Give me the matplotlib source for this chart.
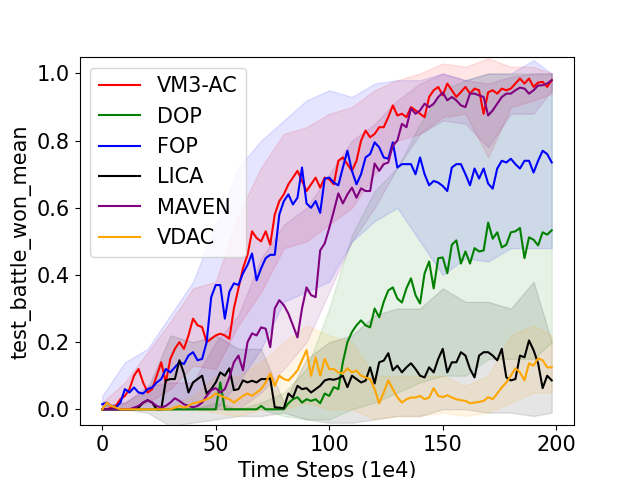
import numpy as np
import matplotlib
matplotlib.use("Agg")
import matplotlib.pyplot as plt

plt.rcParams['font.size'] = 15

# evaluation steps (1e4)
steps = np.arange(0, 200, 2)

# mean win rate per algorithm
vm3ac = [0.0, 0.0, 0.005, 0.01, 0.03, 0.04, 0.06, 0.1, 0.12, 0.08,
         0.05, 0.06, 0.1, 0.14, 0.08, 0.15, 0.18, 0.2, 0.18, 0.22,
         0.27, 0.25, 0.245, 0.2, 0.21, 0.22, 0.225, 0.22, 0.21, 0.3,
         0.36, 0.42, 0.46, 0.53, 0.51, 0.5, 0.53, 0.49, 0.58, 0.62,
         0.64, 0.67, 0.69, 0.71, 0.68, 0.65, 0.67, 0.69, 0.66, 0.69,
         0.685, 0.67, 0.74, 0.75, 0.73, 0.71, 0.74, 0.8, 0.83, 0.81,
         0.82, 0.84, 0.84, 0.87, 0.905, 0.875, 0.88, 0.87, 0.9, 0.89,
         0.88, 0.87, 0.93, 0.95, 0.96, 0.935, 0.97, 0.95, 0.93, 0.945,
         0.96, 0.94, 0.955, 0.95, 0.88, 0.944, 0.95, 0.94, 0.955, 0.95,
         0.955, 0.97, 0.985, 0.97, 0.985, 0.96, 0.973, 0.975, 0.96, 0.98]
dop = [0.0, 0.0, 0.0, 0.0, 0.0, 0.0, 0.0, 0.0, 0.0, 0.0,
       0.0, 0.0, 0.0, 0.0, 0.0, 0.0, 0.0, 0.0, 0.0, 0.0,
       0.0, 0.0, 0.0, 0.0, 0.0, 0.0, 0.08, 0.0, 0.0, 0.0,
       0.0, 0.0, 0.0, 0.0, 0.0, 0.01, 0.0, 0.0, 0.0, 0.0,
       0.0, 0.018, 0.03, 0.036, 0.02, 0.03, 0.025, 0.03, 0.018, 0.047,
       0.04, 0.066, 0.06, 0.14, 0.2, 0.23, 0.25, 0.265, 0.25, 0.244,
       0.3, 0.274, 0.32, 0.354, 0.363, 0.33, 0.318, 0.36, 0.39, 0.34,
       0.315, 0.405, 0.44, 0.36, 0.45, 0.452, 0.405, 0.49, 0.503, 0.434,
       0.47, 0.434, 0.48, 0.47, 0.473, 0.556, 0.508, 0.527, 0.482, 0.49,
       0.527, 0.53, 0.54, 0.45, 0.512, 0.505, 0.488, 0.527, 0.52, 0.533]
fop = [0.015, 0.02, 0.01, 0.005, 0.02, 0.06, 0.05, 0.065, 0.05, 0.047,
       0.06, 0.065, 0.08, 0.09, 0.12, 0.11, 0.125, 0.14, 0.135, 0.16,
       0.17, 0.146, 0.15, 0.2, 0.334, 0.37, 0.37, 0.27, 0.35, 0.375,
       0.37, 0.405, 0.43, 0.464, 0.384, 0.42, 0.45, 0.46, 0.46, 0.58,
       0.62, 0.64, 0.61, 0.63, 0.72, 0.613, 0.6, 0.62, 0.585, 0.687,
       0.69, 0.675, 0.667, 0.72, 0.77, 0.71, 0.67, 0.7, 0.75, 0.76,
       0.795, 0.78, 0.75, 0.746, 0.795, 0.72, 0.73, 0.73, 0.73, 0.70,
       0.75, 0.7, 0.667, 0.68, 0.675, 0.665, 0.65, 0.72, 0.73, 0.73,
       0.70, 0.667, 0.717, 0.687, 0.717, 0.672, 0.657, 0.717, 0.74, 0.735,
       0.746, 0.73, 0.717, 0.74, 0.74, 0.705, 0.74, 0.77, 0.76, 0.735]
lica = [0.0, 0.0, 0.0, 0.0, 0.0, 0.0, 0.0, 0.0, 0.005, 0.02,
        0.027, 0.02, 0.0, 0.0, 0.086, 0.09, 0.09, 0.146, 0.107, 0.05,
        0.08, 0.09, 0.1, 0.047, 0.06, 0.08, 0.11, 0.1, 0.122, 0.057,
        0.06, 0.086, 0.08, 0.085, 0.08, 0.09, 0.09, 0.092, 0.006, 0.005,
        0.003, 0.047, 0.035, 0.07, 0.06, 0.063, 0.05, 0.06, 0.07, 0.086,
        0.09, 0.088, 0.092, 0.1, 0.066, 0.1, 0.09, 0.08, 0.085, 0.125,
        0.077, 0.14, 0.145, 0.167, 0.116, 0.13, 0.11, 0.125, 0.137, 0.12,
        0.10, 0.095, 0.125, 0.11, 0.15, 0.18, 0.11, 0.14, 0.14, 0.17,
        0.16, 0.12, 0.095, 0.16, 0.17, 0.17, 0.16, 0.146, 0.18, 0.095,
        0.086, 0.09, 0.16, 0.155, 0.205, 0.176, 0.137, 0.063, 0.1, 0.086]
maven = [0.0, 0.0, 0.0, 0.0, 0.0, 0.0, 0.0, 0.005, 0.01, 0.02,
         0.027, 0.02, 0.01, 0.005, 0.01, 0.02, 0.033, 0.025, 0.015, 0.01,
         0.006, 0.01, 0.02, 0.04, 0.057, 0.063, 0.05, 0.06, 0.095, 0.14,
         0.16, 0.116, 0.2, 0.226, 0.22, 0.244, 0.24, 0.185, 0.3, 0.325,
         0.31, 0.285, 0.25, 0.214, 0.3, 0.363, 0.34, 0.334, 0.473, 0.494,
         0.54, 0.59, 0.643, 0.613, 0.64, 0.66, 0.63, 0.658, 0.65, 0.65,
         0.732, 0.71, 0.73, 0.735, 0.786, 0.8, 0.85, 0.84, 0.896, 0.88,
         0.89, 0.91, 0.9, 0.91, 0.93, 0.943, 0.92, 0.93, 0.92, 0.905,
         0.9, 0.94, 0.94, 0.935, 0.93, 0.875, 0.89, 0.91, 0.93, 0.94,
         0.94, 0.95, 0.958, 0.955, 0.94, 0.95, 0.964, 0.965, 0.97, 0.98]
vdac = [0.0, 0.02, 0.01, 0.005, 0.0, 0.0, 0.0, 0.0, 0.0, 0.0,
        0.0, 0.0, 0.0, 0.0, 0.0, 0.0, 0.005, 0.01, 0.005, 0.01,
        0.018, 0.02, 0.025, 0.03, 0.036, 0.047, 0.04, 0.035, 0.03, 0.02,
        0.03, 0.04, 0.047, 0.04, 0.05, 0.06, 0.08, 0.107, 0.07, 0.1,
        0.09, 0.086, 0.1, 0.116, 0.146, 0.176, 0.1, 0.155, 0.1, 0.15,
        0.12, 0.12, 0.11, 0.107, 0.122, 0.11, 0.115, 0.1, 0.095, 0.09,
        0.06, 0.018, 0.05, 0.086, 0.06, 0.036, 0.02, 0.03, 0.035, 0.035,
        0.04, 0.03, 0.035, 0.063, 0.04, 0.036, 0.042, 0.035, 0.03, 0.027,
        0.025, 0.018, 0.02, 0.022, 0.025, 0.036, 0.03, 0.047, 0.065, 0.08,
        0.1, 0.122, 0.11, 0.086, 0.137, 0.13, 0.152, 0.146, 0.125, 0.125]

# shaded spread, read coarsely every 10 steps
band_steps = [0, 10, 20, 30, 40, 50, 60, 70, 80, 90, 100,
              110, 120, 130, 140, 150, 160, 170, 180, 190, 198]
vm3ac_lo = [0, 0, 0.02, 0.06, 0.13, 0.12, 0.25, 0.35, 0.48, 0.5, 0.55,
            0.6, 0.7, 0.8, 0.82, 0.87, 0.88, 0.75, 0.9, 0.92, 0.94]
vm3ac_hi = [0.02, 0.08, 0.17, 0.26, 0.36, 0.38, 0.58, 0.72, 0.82, 0.84, 0.88,
            0.9, 0.95, 0.98, 1.0, 1.03, 1.02, 1.045, 1.02, 1.02, 1.0]
dop_lo = [0, 0, 0, 0, 0, 0, 0, 0, -0.02, -0.03, -0.03,
          0.0, 0.02, 0.05, 0.08, 0.1, 0.1, 0.15, 0.15, 0.15, 0.2]
dop_hi = [0, 0, 0, 0, 0, 0.02, 0, 0.02, 0.05, 0.12, 0.3,
          0.52, 0.65, 0.72, 0.85, 0.95, 0.98, 1.0, 1.0, 1.0, 1.0]
fop_lo = [0, 0, 0, 0, 0, 0.0, 0.08, 0.18, 0.32, 0.35, 0.38,
          0.5, 0.56, 0.6, 0.5, 0.4, 0.45, 0.44, 0.48, 0.48, 0.48]
fop_hi = [0.04, 0.14, 0.18, 0.28, 0.38, 0.55, 0.72, 0.8, 0.86, 0.92, 0.95,
          0.93, 0.97, 0.98, 0.98, 1.0, 0.98, 1.0, 1.0, 1.04, 1.0]
lica_lo = [0, 0, -0.01, -0.05, -0.04, -0.03, -0.02, -0.02, -0.01, -0.03, -0.04,
           -0.04, -0.03, -0.02, -0.02, 0.0, 0.0, -0.01, -0.01, -0.02, -0.01]
lica_hi = [0.01, 0.02, 0.06, 0.22, 0.2, 0.22, 0.18, 0.18, 0.02, 0.15, 0.2,
           0.22, 0.28, 0.3, 0.3, 0.36, 0.32, 0.32, 0.3, 0.38, 0.2]
maven_lo = [0, 0, 0, 0, 0, 0, 0, 0.05, 0.12, 0.2, 0.35,
            0.5, 0.6, 0.72, 0.82, 0.86, 0.85, 0.78, 0.88, 0.88, 0.95]
maven_hi = [0.01, 0.02, 0.07, 0.08, 0.08, 0.2, 0.28, 0.45, 0.55, 0.6, 0.7,
            0.8, 0.85, 0.92, 0.97, 1.0, 0.98, 0.97, 0.99, 1.0, 1.0]
vdac_lo = [0, 0, 0, 0, 0, -0.01, -0.02, 0.0, 0.0, 0.02, 0.0,
           0.0, -0.03, -0.02, -0.02, -0.01, -0.02, -0.01, 0.02, 0.05, 0.05]
vdac_hi = [0.02, 0.0, 0.0, 0.01, 0.04, 0.1, 0.1, 0.14, 0.2, 0.25, 0.22,
           0.2, 0.1, 0.1, 0.1, 0.1, 0.07, 0.1, 0.22, 0.25, 0.22]

runs = [
    ('VM3-AC', vm3ac, vm3ac_lo, vm3ac_hi, 'red'),
    ('DOP', dop, dop_lo, dop_hi, 'green'),
    ('FOP', fop, fop_lo, fop_hi, 'blue'),
    ('LICA', lica, lica_lo, lica_hi, 'black'),
    ('MAVEN', maven, maven_lo, maven_hi, 'purple'),
    ('VDAC', vdac, vdac_lo, vdac_hi, 'orange'),
]

fig, ax = plt.subplots(figsize=(6.38, 4.78), dpi=100)
for name, mean, lo, hi, c in runs:
    ax.plot(steps, mean, color=c, label=name, linewidth=1.5)
    ax.fill_between(band_steps, lo, hi, color=c, alpha=0.1)

ax.set_ylim(-0.048, 1.048)
ax.set_xlabel('Time Steps (1e4)')
ax.set_ylabel('test_battle_won_mean')
ax.legend(loc='upper left')
fig.subplots_adjust(left=0.125, right=0.9, bottom=0.11, top=0.88)
fig.savefig('out.png')
